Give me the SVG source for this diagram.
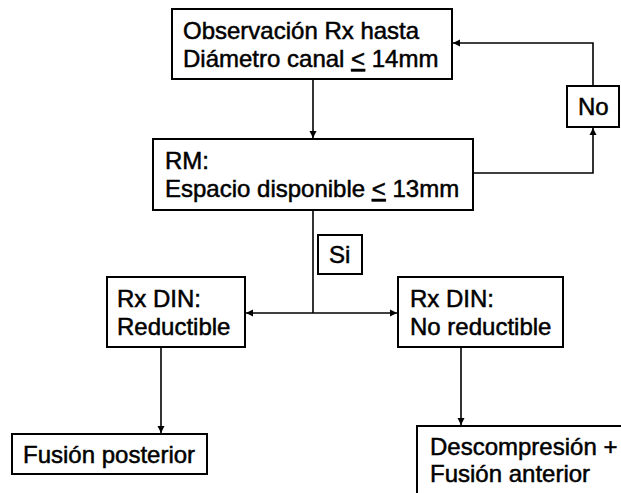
<svg xmlns="http://www.w3.org/2000/svg" width="621" height="493" viewBox="0 0 621 493">
<defs>
<style>
.box{fill:#fff;stroke:#000;stroke-width:2}
.t{font-family:"Liberation Sans",Arial,sans-serif;font-size:24px;fill:#000;stroke:#000;stroke-width:0.5}
.c{fill:none;stroke:#000;stroke-width:1.6}
</style>
<marker id="ah" viewBox="0 0 10 10" refX="10" refY="5" markerWidth="4.5" markerHeight="4.5" orient="auto" markerUnits="strokeWidth">
<path d="M0,0 L10,5 L0,10 z" fill="#000"/>
</marker>
</defs>
<rect width="621" height="493" fill="#fff"/>
<g id="connectors">
<path class="c" d="M313,79 V138" marker-end="url(#ah)"/>
<path class="c" d="M473,173 H593 V128" marker-end="url(#ah)"/>
<path class="c" d="M593,86 V43 H453" marker-end="url(#ah)"/>
<path class="c" d="M313,210 V313"/>
<path class="c" d="M313,313 H246" marker-end="url(#ah)"/>
<path class="c" d="M313,313 H397" marker-end="url(#ah)"/>
<path class="c" d="M161,347 V433" marker-end="url(#ah)"/>
<path class="c" d="M461,347 V425" marker-end="url(#ah)"/>
</g>
<g id="n1">
<rect class="box" x="172" y="9" width="280" height="70"/>
<text class="t" x="183" y="39">Observación Rx hasta</text>
<text class="t" x="183" y="67">Diámetro canal <tspan text-decoration="underline">&lt;</tspan> 14mm</text>
</g>
<g id="n2">
<rect class="box" x="153" y="139" width="320" height="71"/>
<text class="t" x="165" y="169">RM:</text>
<text class="t" x="165" y="197">Espacio disponible <tspan text-decoration="underline">&lt;</tspan> 13mm</text>
</g>
<g id="no">
<rect class="box" x="567" y="86" width="52" height="41"/>
<text class="t" x="578" y="115">No</text>
</g>
<g id="si">
<rect class="box" x="318" y="235" width="44" height="39"/>
<text class="t" x="329" y="263">Si</text>
</g>
<g id="n3">
<rect class="box" x="107" y="277" width="138" height="70"/>
<text class="t" x="117" y="307">Rx DIN:</text>
<text class="t" x="117" y="335">Reductible</text>
</g>
<g id="n4">
<rect class="box" x="398" y="277" width="165" height="70"/>
<text class="t" x="410" y="307">Rx DIN:</text>
<text class="t" x="410" y="335">No reductible</text>
</g>
<g id="n5">
<rect class="box" x="12" y="434" width="195" height="40"/>
<text class="t" x="23" y="463">Fusión posterior</text>
</g>
<g id="n6">
<rect class="box" x="417" y="426" width="220" height="80"/>
<text class="t" x="430" y="455">Descompresión +</text>
<text class="t" x="430" y="482">Fusión anterior</text>
</g>
</svg>
